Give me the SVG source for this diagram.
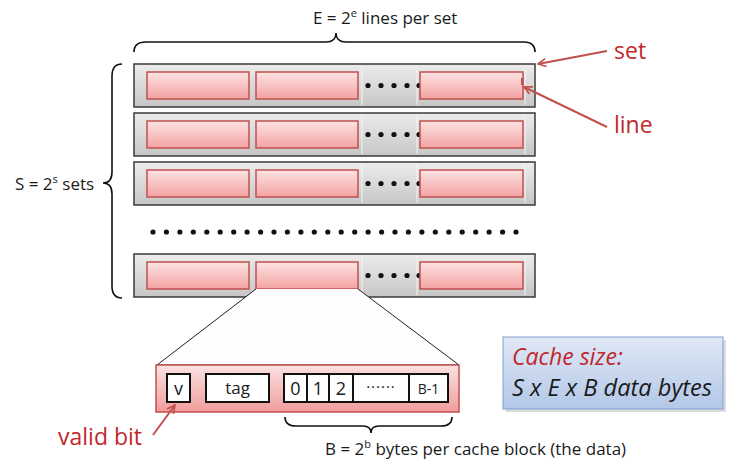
<svg xmlns="http://www.w3.org/2000/svg" width="735" height="462" viewBox="0 0 735 462">
<style>
.t{font-family:"Open Sans","Liberation Sans",sans-serif;fill:#1a1a1a}
.red{font-family:"Open Sans","Liberation Sans",sans-serif;fill:#c0282d}
.row{fill:url(#gRow);stroke:#3a3a3a;stroke-width:1.5}
.ln{fill:url(#gPink);stroke:#c0504d;stroke-width:1.5}
.dot{fill:#111}
.brace{fill:none;stroke:#111;stroke-width:1.6}
.arr{fill:none;stroke:#c0504d;stroke-width:2;marker-end:url(#ah)}
.cell{fill:#fff;stroke:#111;stroke-width:2}
.div{stroke:#f4f4f4;stroke-width:1}
</style>
<defs>
<linearGradient id="gRow" x1="0" y1="0" x2="0" y2="1">
<stop offset="0" stop-color="#ececec"/><stop offset="1" stop-color="#c6c6c6"/>
</linearGradient>
<linearGradient id="gPink" x1="0" y1="0" x2="0" y2="1">
<stop offset="0" stop-color="#fde3e3"/><stop offset="1" stop-color="#f3a2a2"/>
</linearGradient>
<linearGradient id="gBlock" x1="0" y1="0" x2="0" y2="1">
<stop offset="0" stop-color="#fbe2e2"/><stop offset="1" stop-color="#f19c9c"/>
</linearGradient>
<linearGradient id="gBlue" x1="0" y1="0" x2="0" y2="1">
<stop offset="0" stop-color="#e0e9f6"/><stop offset="1" stop-color="#b3c7e8"/>
</linearGradient>
<marker id="ah" viewBox="0 0 10 10" refX="9" refY="5" markerWidth="5" markerHeight="5" orient="auto" markerUnits="strokeWidth">
<path d="M1,1 L9,5 L1,9" fill="none" stroke="#c0504d" stroke-width="1.6"/>
</marker>
<g id="rowContent">
<rect class="row" x="134" y="0" width="401" height="43"/>
<line class="div" x1="362" y1="2" x2="362" y2="41"/>
<line class="div" x1="417" y1="2" x2="417" y2="41"/>
<line class="div" x1="525" y1="2" x2="525" y2="41"/>
<rect class="ln" x="147" y="8" width="102" height="27"/>
<rect class="ln" x="256" y="8" width="102" height="27"/>
<circle class="dot" cx="368" cy="21.5" r="2.6"/>
<circle class="dot" cx="381" cy="21.5" r="2.6"/>
<circle class="dot" cx="394" cy="21.5" r="2.6"/>
<circle class="dot" cx="407" cy="21.5" r="2.6"/>
<circle class="dot" cx="419" cy="21.5" r="2.6"/>
<rect class="ln" x="420" y="8" width="103" height="27"/>
</g>
</defs>

<text class="t" x="240" y="-6" font-size="38" textLength="130" font-weight="bold">(S, E, B)</text>

<g id="label-E">
<text class="t" x="313" y="24" font-size="17">E = 2<tspan font-size="11" dy="-7">e</tspan><tspan dy="7"> lines per set</tspan></text>
<path class="brace" d="M134,52 Q134,42 146,42 L326,42 Q336,42 336,33 Q336,42 346,42 L524,42 Q535,42 535,52"/>
</g>

<g id="label-S">
<text class="t" x="15" y="190" font-size="17">S = 2<tspan font-size="11" dy="-7">s</tspan><tspan dy="7"> sets</tspan></text>
<path class="brace" d="M122,64 Q112,64 112,76 L112,172 Q112,183 103,183 Q112,183 112,194 L112,286 Q112,298 122,298"/>
</g>

<g id="set1"><use href="#rowContent" y="64"/><rect x="521" y="78" width="2.5" height="7" fill="#c0504d"/></g>
<g id="set2"><use href="#rowContent" y="113"/></g>
<g id="set3"><use href="#rowContent" y="162"/></g>
<g id="set-dots">
<circle class="dot" cx="153.0" cy="232" r="2.6"/><circle class="dot" cx="166.4" cy="232" r="2.6"/><circle class="dot" cx="179.9" cy="232" r="2.6"/><circle class="dot" cx="193.3" cy="232" r="2.6"/><circle class="dot" cx="206.8" cy="232" r="2.6"/><circle class="dot" cx="220.2" cy="232" r="2.6"/><circle class="dot" cx="233.7" cy="232" r="2.6"/><circle class="dot" cx="247.1" cy="232" r="2.6"/><circle class="dot" cx="260.6" cy="232" r="2.6"/><circle class="dot" cx="274.0" cy="232" r="2.6"/><circle class="dot" cx="287.4" cy="232" r="2.6"/><circle class="dot" cx="300.9" cy="232" r="2.6"/><circle class="dot" cx="314.3" cy="232" r="2.6"/><circle class="dot" cx="327.8" cy="232" r="2.6"/><circle class="dot" cx="341.2" cy="232" r="2.6"/><circle class="dot" cx="354.7" cy="232" r="2.6"/><circle class="dot" cx="368.1" cy="232" r="2.6"/><circle class="dot" cx="381.6" cy="232" r="2.6"/><circle class="dot" cx="395.0" cy="232" r="2.6"/><circle class="dot" cx="408.4" cy="232" r="2.6"/><circle class="dot" cx="421.9" cy="232" r="2.6"/><circle class="dot" cx="435.3" cy="232" r="2.6"/><circle class="dot" cx="448.8" cy="232" r="2.6"/><circle class="dot" cx="462.2" cy="232" r="2.6"/><circle class="dot" cx="475.7" cy="232" r="2.6"/><circle class="dot" cx="489.1" cy="232" r="2.6"/><circle class="dot" cx="502.6" cy="232" r="2.6"/><circle class="dot" cx="516.0" cy="232" r="2.6"/>
</g>
<g id="set4"><use href="#rowContent" y="254"/></g>

<g id="zoom">
<path d="M256,289 L157,365 L459,365 L358,289" fill="#fffdfd" stroke="#222" stroke-width="1"/>
</g>

<g id="cache-block">
<rect x="156" y="365" width="303" height="47" fill="url(#gBlock)" stroke="#c0504d" stroke-width="1.5"/>
<rect class="cell" x="167" y="374" width="23" height="28"/>
<text class="t" x="178.5" y="395" font-size="18" text-anchor="middle">v</text>
<rect class="cell" x="206" y="374" width="63" height="28"/>
<text class="t" x="237.5" y="394" font-size="17" text-anchor="middle">tag</text>
<rect class="cell" x="284" y="374" width="23" height="28"/>
<text class="t" x="295.5" y="395" font-size="18" text-anchor="middle">0</text>
<rect class="cell" x="307" y="374" width="22" height="28"/>
<text class="t" x="318" y="395" font-size="18" text-anchor="middle">1</text>
<rect class="cell" x="329" y="374" width="24" height="28"/>
<text class="t" x="341" y="395" font-size="18" text-anchor="middle">2</text>
<rect class="cell" x="353" y="374" width="56" height="28"/>
<text class="t" x="381" y="392" font-size="15" text-anchor="middle" letter-spacing="1">······</text>
<rect class="cell" x="409" y="374" width="39" height="28"/>
<text class="t" x="428.5" y="394" font-size="14" text-anchor="middle">B-1</text>
</g>

<g id="label-B">
<path class="brace" d="M285,417 Q285,426 296,426 L363,426 Q371,426 371,433 Q371,426 379,426 L441,426 Q452,426 452,417"/>
<text class="t" x="325" y="455" font-size="17">B = 2<tspan font-size="11" dy="-7">b</tspan><tspan dy="7"> bytes per cache block (the data)</tspan></text>
</g>

<g id="label-set"><text class="red" x="614" y="59" font-size="23">set</text></g>
<g id="label-line"><text class="red" x="614" y="133" font-size="23">line</text></g>
<g id="label-valid"><text class="red" x="58" y="445" font-size="23">valid bit</text></g>

<g id="connectors">
<line class="arr" x1="607" y1="51" x2="538" y2="64"/>
<line class="arr" x1="607" y1="127" x2="524" y2="87"/>
<line class="arr" x1="153" y1="435" x2="175" y2="405"/>
</g>

<g id="cache-size">
<rect x="506" y="340" width="220" height="72" fill="#bbbbbb" opacity="0.5"/>
<rect x="503" y="337" width="220" height="72" fill="url(#gBlue)" stroke="#7f9fce" stroke-width="1"/>
<text class="red" x="512" y="365" font-size="23" font-style="italic">Cache size:</text>
<text class="t" x="512" y="396" font-size="23" font-style="italic" textLength="200" lengthAdjust="spacingAndGlyphs">S x E x B data bytes</text>
</g>
</svg>
